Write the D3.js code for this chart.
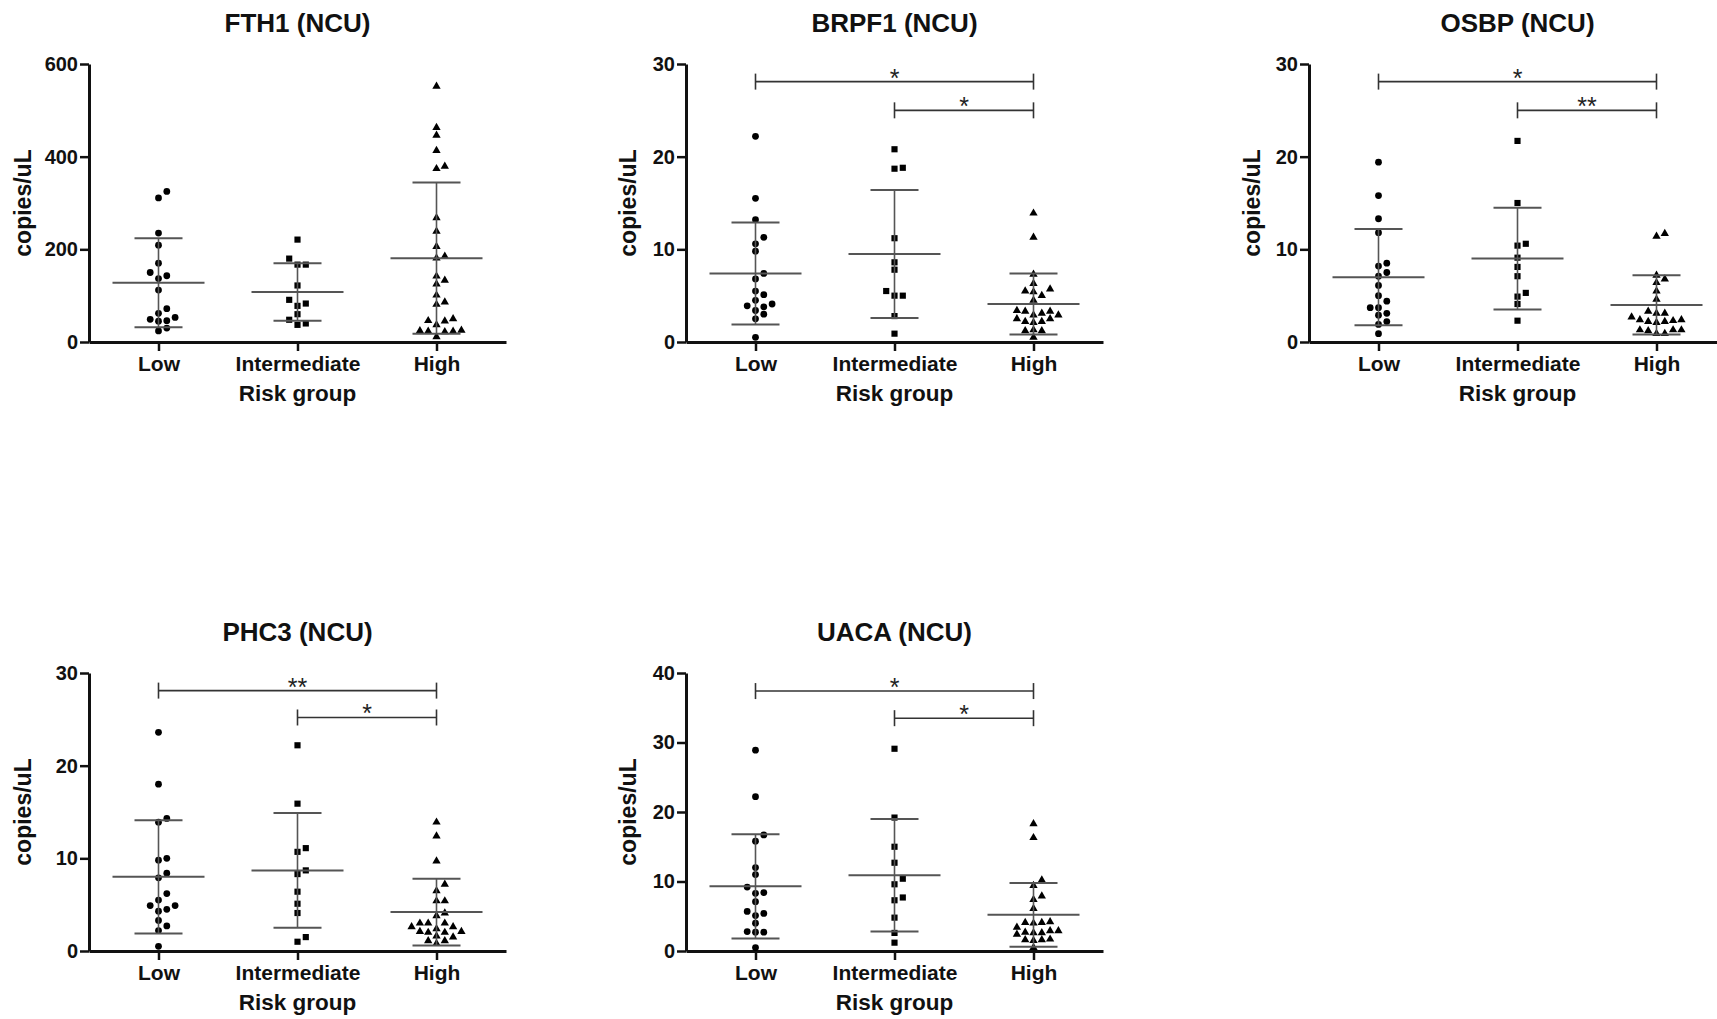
<!DOCTYPE html>
<html>
<head>
<meta charset="utf-8">
<script src="https://cdn.jsdelivr.net/npm/d3@7"></script>
<style>
  body { margin: 0; background: #fff; }
  svg { display: block; font-family: "Liberation Sans", Arial, sans-serif; }
</style>
</head>
<body>
<div id="chart"></div>
<script>
// Risk groups (x categories)
const groups = ["Low", "Intermediate", "High"];

// FTH1 (NCU)
const fth1Low = [325, 311, 235, 209, 170, 150, 137, 143, 112, 72, 62, 53, 45, 46, 49, 24, 30];
const fth1Int = [221, 180, 167, 167, 122, 91, 78, 83, 60, 48, 37, 40];
const fth1High = [552, 463, 446, 413, 379, 374, 268, 239, 206, 185, 181, 142, 133, 125, 101, 86, 81, 50, 45, 46, 37, 25, 23, 23, 22, 24, 11];
const fth1Mean = [128, 108, 181];
const fth1Sd = [96, 62, 163];
const fth1Ticks = [0, 200, 400, 600];
const fth1Sig = [];

// BRPF1 (NCU)
const brpf1Low = [22.2, 15.5, 13.2, 11.3, 10.6, 9.8, 7.4, 6.8, 5.5, 5.1, 4.1, 3.8, 3.9, 4.5, 3.4, 3.0, 2.5, 0.5];
const brpf1Int = [20.8, 18.8, 18.7, 11.2, 8.6, 7.8, 5.5, 5.0, 5.0, 2.8, 0.9];
const brpf1High = [13.9, 11.3, 7.3, 6.3, 5.5, 5.4, 5.7, 5.0, 4.5, 3.3, 2.9, 3.4, 2.9, 3.1, 3.3, 2.2, 2.1, 2.5, 2.5, 2.2, 1.2, 1.3, 1.2, 0.5];
const brpf1Mean = [7.4, 9.5, 4.1];
const brpf1Sd = [5.5, 6.9, 3.3];
const brpf1Ticks = [0, 10, 20, 30];
const brpf1Sig = [["Low", "High", 28.1, "*"], ["Intermediate", "High", 25.0, "*"]];

// OSBP (NCU)
const osbpLow = [19.4, 15.8, 13.3, 11.8, 8.2, 8.5, 7.5, 7.1, 6.1, 5.0, 4.4, 3.7, 3.7, 3.1, 2.9, 2.2, 1.9, 0.9];
const osbpInt = [21.7, 15.0, 10.4, 10.6, 9.1, 8.1, 7.1, 5.3, 4.9, 4.1, 2.3];
const osbpHigh = [11.4, 11.7, 7.2, 6.8, 6.4, 5.5, 4.6, 3.3, 3.1, 3.1, 2.4, 2.3, 2.2, 2.1, 2.2, 2.4, 2.7, 1.3, 1.2, 1.3, 1.3, 0.9, 0.9];
const osbpMean = [7.0, 9.0, 4.0];
const osbpSd = [5.2, 5.5, 3.2];
const osbpTicks = [0, 10, 20, 30];
const osbpSig = [["Low", "High", 28.1, "*"], ["Intermediate", "High", 25.0, "**"]];

// PHC3 (NCU)
const phc3Low = [23.6, 18.0, 14.3, 13.9, 9.8, 10.0, 8.4, 7.9, 6.2, 5.5, 4.9, 4.9, 4.5, 4.3, 3.3, 2.7, 2.2, 0.5];
const phc3Int = [22.2, 15.9, 11.1, 10.7, 8.7, 8.3, 6.4, 5.1, 4.1, 1.0, 1.5];
const phc3High = [13.9, 12.4, 9.7, 7.2, 6.5, 5.4, 5.4, 3.8, 4.1, 2.6, 3.0, 3.0, 3.0, 2.4, 2.6, 2.1, 2.0, 2.0, 2.1, 1.6, 1.5, 1.1, 1.1, 0.8];
const phc3Mean = [8.0, 8.7, 4.2];
const phc3Sd = [6.1, 6.2, 3.6];
const phc3Ticks = [0, 10, 20, 30];
const phc3Sig = [["Low", "High", 28.1, "**"], ["Intermediate", "High", 25.2, "*"]];

// UACA (NCU)
const uacaLow = [28.9, 22.2, 16.7, 15.8, 12.0, 11.0, 9.2, 8.4, 8.3, 7.1, 5.7, 5.4, 5.1, 4.0, 2.7, 2.7, 2.8, 0.5];
const uacaInt = [29.1, 19.2, 15.0, 12.7, 10.4, 9.6, 7.7, 7.3, 4.8, 2.6, 1.2];
const uacaHigh = [18.3, 16.3, 10.2, 9.4, 7.4, 7.9, 6.1, 4.2, 4.1, 4.0, 4.1, 3.4, 2.9, 2.4, 2.6, 2.6, 2.7, 2.9, 1.6, 1.7, 1.5, 1.6, 0.5];
const uacaMean = [9.3, 10.9, 5.2];
const uacaSd = [7.5, 8.1, 4.6];
const uacaTicks = [0, 10, 20, 30, 40];
const uacaSig = [["Low", "High", 37.4, "*"], ["Intermediate", "High", 33.5, "*"]];

const panels = [
    {title: "FTH1 (NCU)", values: [fth1Low, fth1Int, fth1High], mean: fth1Mean, sd: fth1Sd, ticks: fth1Ticks, sig: fth1Sig},
    {title: "BRPF1 (NCU)", values: [brpf1Low, brpf1Int, brpf1High], mean: brpf1Mean, sd: brpf1Sd, ticks: brpf1Ticks, sig: brpf1Sig},
    {title: "OSBP (NCU)", values: [osbpLow, osbpInt, osbpHigh], mean: osbpMean, sd: osbpSd, ticks: osbpTicks, sig: osbpSig},
    {title: "PHC3 (NCU)", values: [phc3Low, phc3Int, phc3High], mean: phc3Mean, sd: phc3Sd, ticks: phc3Ticks, sig: phc3Sig},
    {title: "UACA (NCU)", values: [uacaLow, uacaInt, uacaHigh], mean: uacaMean, sd: uacaSd, ticks: uacaTicks, sig: uacaSig}
];

// Panel placement on the page
const layout = [
    {left: 89, top: 64, ytitle: 31},
    {left: 686, top: 64, ytitle: 636},
    {left: 1309, top: 64, ytitle: 1260},
    {left: 89, top: 673, ytitle: 31},
    {left: 686, top: 673, ytitle: 636}
];

const plotW = 417, plotH = 278;
const symbols = [d3.symbolCircle, d3.symbolSquare, d3.symbolTriangle];
const symbolSize = [36, 38, 30];

const svg = d3.select("#chart")
    .append("svg")
    .attr("width", 1717)
    .attr("height", 1019);

// spread points sideways when they overlap (like a scatter dot plot)
function swarm(vals, y, cx) {
    const step = 8.3, gap = 6.8;
    const order = [0, 1, -1, 2, -2, 3, -3, 4, -4, 5, -5];
    const placed = [];
    vals.slice().sort((a, b) => a - b).forEach(v => {
        const py = y(v);
        const slot = order.find(s => !placed.some(p => p.slot === s && Math.abs(p.py - py) < gap));
        placed.push({v: v, py: py, slot: slot, px: cx + slot * step});
    });
    return placed;
}

panels.forEach((p, i) => {
    const L = layout[i];
    const g = svg.append("g");

    const x = d3.scalePoint()
        .domain(groups)
        .range([L.left, L.left + plotW])
        .padding(0.5);

    const y = d3.scaleLinear()
        .domain([0, d3.max(p.ticks)])
        .range([L.top + plotH, L.top]);

    // Title
    g.append("text")
        .attr("x", L.left + plotW / 2)
        .attr("y", L.top - 32)
        .attr("text-anchor", "middle")
        .style("font-size", "26px")
        .style("font-weight", "bold")
        .style("fill", "#111")
        .text(p.title);

    // Y axis
    const yAxis = g.append("g")
        .attr("transform", `translate(${L.left},0)`)
        .call(d3.axisLeft(y).tickValues(p.ticks).tickSize(9).tickSizeOuter(0).tickPadding(2));
    yAxis.select(".domain").attr("stroke", "#111").attr("stroke-width", 3);
    yAxis.selectAll(".tick line").attr("stroke", "#111").attr("stroke-width", 2.5);
    yAxis.selectAll(".tick text")
        .style("font-size", "20px")
        .style("font-weight", "bold")
        .style("fill", "#111")
        .style("font-family", "'Liberation Sans', Arial, sans-serif");

    // X axis
    const xAxis = g.append("g")
        .attr("transform", `translate(0,${L.top + plotH})`)
        .call(d3.axisBottom(x).tickSize(9).tickSizeOuter(0));
    xAxis.select(".domain").attr("stroke", "#111").attr("stroke-width", 3);
    xAxis.selectAll(".tick line").attr("stroke", "#111").attr("stroke-width", 2.5);
    xAxis.selectAll(".tick text")
        .attr("y", 29)
        .attr("dy", null)
        .style("font-size", "21px")
        .style("font-weight", "bold")
        .style("fill", "#111")
        .style("font-family", "'Liberation Sans', Arial, sans-serif");

    // Axis titles
    g.append("text")
        .attr("x", L.left + plotW / 2)
        .attr("y", L.top + plotH + 59)
        .attr("text-anchor", "middle")
        .style("font-size", "22.5px")
        .style("font-weight", "bold")
        .style("fill", "#111")
        .text("Risk group");

    g.append("text")
        .attr("transform", `translate(${L.ytitle},${L.top + plotH / 2}) rotate(-90)`)
        .attr("text-anchor", "middle")
        .style("font-size", "23px")
        .style("font-weight", "bold")
        .style("fill", "#111")
        .text("copies/uL");

    // Points
    groups.forEach((grp, k) => {
        const cx = x(grp);
        const pts = swarm(p.values[k], y, cx);
        g.append("g").selectAll("path")
            .data(pts)
            .enter()
            .append("path")
            .attr("d", d3.symbol().type(symbols[k]).size(symbolSize[k]))
            .attr("transform", d => `translate(${d.px},${d.py})`)
            .attr("fill", "#000");

        // mean +/- SD
        const m = p.mean[k], s = p.sd[k];
        const lines = g.append("g").attr("stroke", "#555").attr("stroke-width", 2);
        lines.append("line")
            .attr("x1", cx - 46).attr("x2", cx + 46)
            .attr("y1", y(m)).attr("y2", y(m));
        lines.append("line")
            .attr("x1", cx).attr("x2", cx)
            .attr("y1", y(m + s)).attr("y2", y(m - s))
            .attr("stroke-width", 1.6);
        [m + s, m - s].forEach(v => {
            lines.append("line")
                .attr("x1", cx - 24).attr("x2", cx + 24)
                .attr("y1", y(v)).attr("y2", y(v));
        });
    });

    // Significance brackets
    p.sig.forEach(([a, b, v, label]) => {
        const yy = y(v);
        const bg = g.append("g").attr("stroke", "#333").attr("stroke-width", 1.6);
        bg.append("line").attr("x1", x(a)).attr("x2", x(b)).attr("y1", yy).attr("y2", yy);
        [a, b].forEach(c => {
            bg.append("line").attr("x1", x(c)).attr("x2", x(c)).attr("y1", yy - 8).attr("y2", yy + 8);
        });
        g.append("text")
            .attr("x", (x(a) + x(b)) / 2)
            .attr("y", yy + 5)
            .attr("text-anchor", "middle")
            .style("font-size", "25px")
            .style("fill", "#222")
            .text(label);
    });
});
</script>
</body>
</html>
